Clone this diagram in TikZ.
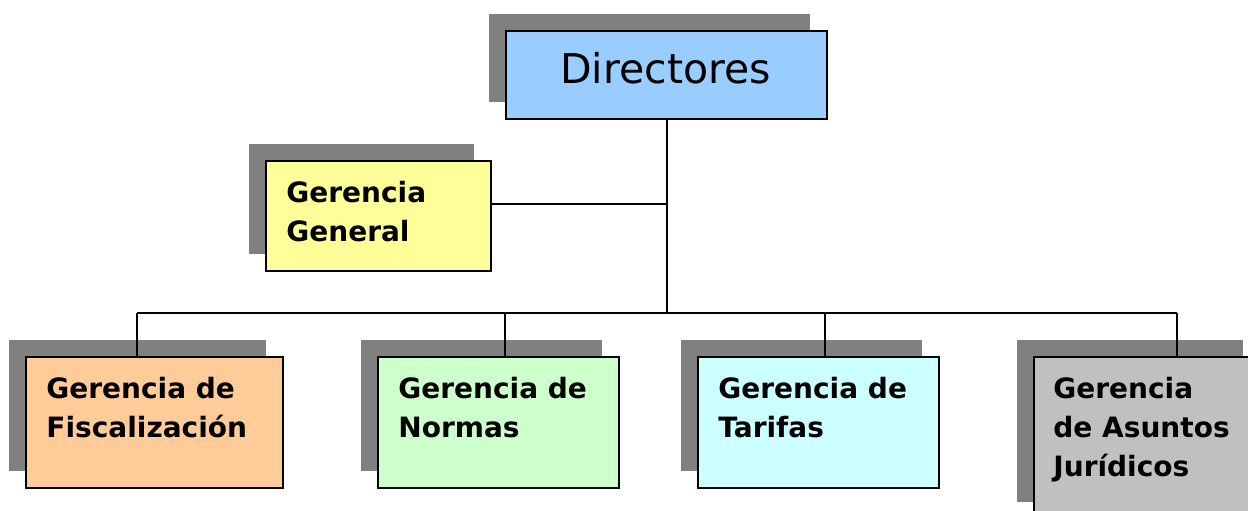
\documentclass[tikz,border=0pt]{standalone}
\usepackage{fontspec}
\setmainfont{DejaVu Sans}
\usepackage{xcolor}
\usepackage{tikz}
\usetikzlibrary{shadows}
\definecolor{DirBlue}{HTML}{99CCFF}
\definecolor{GenYellow}{HTML}{FFFF99}
\definecolor{FisOrange}{HTML}{FFCC99}
\definecolor{NorGreen}{HTML}{CCFFCC}
\definecolor{TarCyan}{HTML}{CCFFFF}
\definecolor{JurGray}{HTML}{C0C0C0}
\tikzset{
  OrgBox/.style={
    rectangle, anchor=north west, inner sep=0pt,
    line width=1pt, draw=black,
    general shadow={fill=black!50, shadow xshift=-8.5pt, shadow yshift=8.5pt},
  },
  OrgText/.style={
    anchor=north west, inner sep=0pt, align=left,
    font=\fontsize{14pt}{19.5pt}\selectfont\bfseries,
  },
  OrgLine/.style={line width=1pt, draw=black},
}
\begin{document}
\begin{tikzpicture}[x=0.5pt, y=-0.5pt]
\clip (0,0) rectangle (1248,510);
\node[OrgBox, fill=DirBlue, minimum width=160.5pt, minimum height=44pt] (dir) at (505,30) {};
\node[anchor=base, inner sep=0pt, font=\fontsize{20.5pt}{24pt}\selectfont] (dirText) at (665.5,83) {Directores};
\node[OrgBox, fill=GenYellow, minimum width=112.5pt, minimum height=55pt] (gen) at (265,160) {};
\node[OrgText] (genText) at ([shift={(21,21)}]gen.north west) {Gerencia\\General};
\node[OrgBox, fill=FisOrange, minimum width=128.5pt, minimum height=65.5pt] (fis) at (25,356) {};
\node[OrgText] (fisText) at ([shift={(21,21)}]fis.north west) {Gerencia de\\Fiscalización};
\node[OrgBox, fill=NorGreen, minimum width=120.5pt, minimum height=65.5pt] (nor) at (377,356) {};
\node[OrgText] (norText) at ([shift={(21,21)}]nor.north west) {Gerencia de\\Normas};
\node[OrgBox, fill=TarCyan, minimum width=120.5pt, minimum height=65.5pt] (tar) at (697,356) {};
\node[OrgText] (tarText) at ([shift={(21,21)}]tar.north west) {Gerencia de\\Tarifas};
\node[OrgBox, fill=JurGray, minimum width=113pt, minimum height=81pt] (jur) at (1033,356) {};
\node[OrgText] (jurText) at ([shift={(20,21)}]jur.north west) {Gerencia\\de Asuntos\\Jurídicos};
\coordinate (busF) at (137,313);
\coordinate (busN) at (505,313);
\coordinate (busT) at (825,313);
\coordinate (busJ) at (1177,313);
\coordinate (bus) at (dir.south |- busF);
\coordinate (genJoin) at (dir.south |- 0,204);
\draw[OrgLine] (dir.south) -- (bus);
\draw[OrgLine] (genJoin -| gen.east) -- (genJoin);
\draw[OrgLine] (busF) -- (busJ);
\draw[OrgLine] (busF) -- (busF |- fis.north);
\draw[OrgLine] (busN) -- (busN |- nor.north);
\draw[OrgLine] (busT) -- (busT |- tar.north);
\draw[OrgLine] (busJ) -- (busJ |- jur.north);
\end{tikzpicture}
\end{document}
